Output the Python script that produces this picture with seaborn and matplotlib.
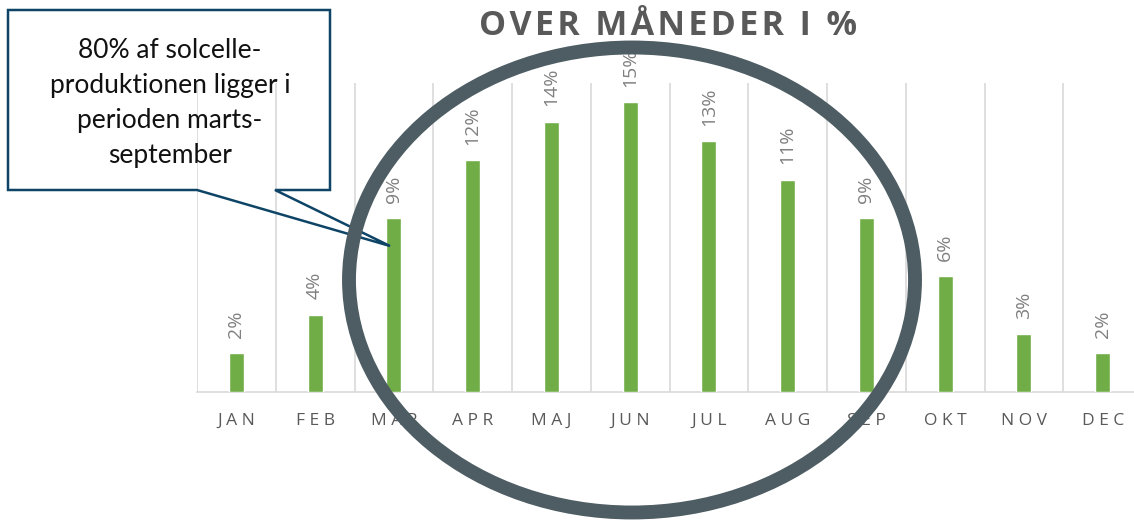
"""
Solar production per month, share of the year in percent.
"""
import seaborn as sns
import matplotlib.pyplot as plt
from matplotlib.patches import Ellipse, Polygon

sns.set_style('white')
plt.rcParams['font.family'] = ['Open Sans', 'DejaVu Sans']

months = ['JAN', 'FEB', 'MAR', 'APR', 'MAJ', 'JUN',
          'JUL', 'AUG', 'SEP', 'OKT', 'NOV', 'DEC']
share = [2, 4, 9, 12, 14, 15, 13, 11, 9, 6, 3, 2]
title = 'OVER MÅNEDER I %'
note = '80% af solcelle-\nproduktionen ligger i\nperioden marts-\nseptember'

W, H = 1134, 521
fig = plt.figure(figsize=(W / 100, H / 100), dpi=100)
ax = fig.add_axes([197 / W, 1 - 392 / H, 945 / W, 309 / H])

sns.barplot(x=months, y=share, color='#70AD47', saturation=1,
            width=0.19, ax=ax, zorder=3)

ax.set(xlim=(-0.5, 11.5), ylim=(0, 16), xlabel='', ylabel='')
ax.set_yticks([])
ax.set_xticks(range(12))
ax.set_xticklabels([' '.join(m) for m in months])
ax.set_xticks([i - 0.5 for i in range(13)], minor=True)
ax.grid(which='minor', axis='x', color='#D9D9D9', linewidth=1.2)
ax.tick_params(axis='x', which='both', length=0, pad=15,
               labelsize=12.5, labelcolor='#595959')
for side in ['left', 'right', 'top']:
    ax.spines[side].set_visible(False)
ax.spines['bottom'].set_color('#D9D9D9')
ax.spines['bottom'].set_linewidth(1.2)

for i, v in enumerate(share):
    ax.annotate(f'{v}%', (i, v), xytext=(0, 11), textcoords='offset points',
                rotation=90, ha='center', va='bottom',
                fontsize=14, color='#808080')

# title, letter spaced
fig.text(668 / W, 1 - 26 / H, '\u200a'.join(title), ha='center', va='center',
         fontsize=24.5, fontweight='bold', color='#595959')

# callout box with tail
pts = [(8, 10), (330, 10), (330, 190), (275, 190), (390, 246),
       (197, 190), (8, 190)]
fig.add_artist(Polygon([(x / W, 1 - y / H) for x, y in pts], closed=True,
                       fill=False, edgecolor='#0E4466', linewidth=1.8,
                       transform=fig.transFigure))
fig.text(170 / W, 1 - 103 / H, note, ha='center', va='center',
         fontsize=19, color='#111111', linespacing=1.5,
         family=['Lato', 'DejaVu Sans'])

# big ring around March-September
fig.add_artist(Ellipse((632 / W, 1 - 280 / H), 566 / W, 465 / H,
                       fill=False, edgecolor='#4E5D63', linewidth=10,
                       transform=fig.transFigure, zorder=5))

fig.savefig('out.png', dpi=100)
